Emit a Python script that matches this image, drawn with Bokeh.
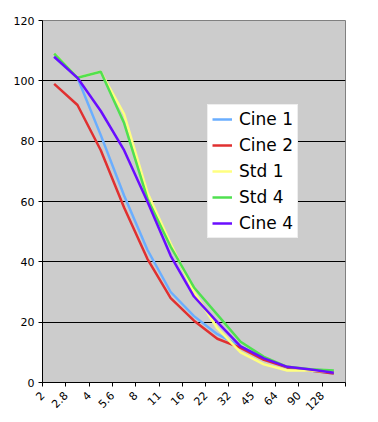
from bokeh.plotting import figure
from bokeh.models import FixedTicker, Legend, LegendItem, ColumnDataSource
from bokeh.embed import file_html
from bokeh.resources import INLINE
import math

categories = ["2", "2.8", "4", "5.6", "8", "11", "16", "22", "32", "45", "64", "90", "128"]
cine1 = [108, 101, 82, 62, 44, 30, 22, 16, 12, 8, 5, 4, 3]
cine2 = [99, 92, 77, 58, 41, 28, 20.5, 14.5, 11.5, 7.5, 5, 4, 3]
std1 = [109, 101, 103, 89, 63, 46, 30, 18, 10, 6, 4, 4, 3.5]
std4 = [109, 101, 103, 86, 61, 45, 31.5, 22.5, 13.5, 8.5, 5.2, 4.4, 4]
cine4 = [108, 101, 90, 77, 60, 42, 28.5, 20, 12, 8, 5.2, 4.3, 3.2]

series = [
    ("Cine 1", cine1, "#6aaeff"),
    ("Cine 2", cine2, "#e03030"),
    ("Std 1", std1, "#ffff80"),
    ("Std 4", std4, "#50e050"),
    ("Cine 4", cine4, "#6a0dff"),
]

n = len(categories)
xs = [i + 0.5 for i in range(n)]

p = figure(width=378, height=422, output_backend="svg", toolbar_location=None,
           x_range=(0, n), y_range=(0, 120),
           min_border_left=42, min_border_right=33, min_border_top=20, min_border_bottom=40)
p.border_fill_color = "white"
p.background_fill_color = "#cccccc"
p.outline_line_color = "#808080"
p.outline_line_width = 1

items = []
for name, vals, col in series:
    src = ColumnDataSource(dict(x=xs, y=vals))
    r = p.line("x", "y", source=src, line_color=col, line_width=2.5)
    items.append(LegendItem(label=name, renderers=[r]))

# axes
p.xaxis.ticker = FixedTicker(ticks=list(range(n + 1)))
p.xaxis.major_label_overrides = {i: categories[i] for i in range(n)} | {n: ""}
p.xaxis.major_label_orientation = math.pi / 4
p.xaxis.minor_tick_line_color = None
p.yaxis.ticker = FixedTicker(ticks=[0, 20, 40, 60, 80, 100, 120])
p.yaxis.minor_tick_line_color = None
for ax in (p.xaxis, p.yaxis):
    ax.axis_line_color = "black"
    ax.major_tick_line_color = "black"
    ax.major_tick_out = 4
    ax.major_tick_in = 0
    ax.major_label_text_font = "DejaVu Sans"
    ax.major_label_text_font_size = "11px"
    ax.major_label_text_color = "black"
    ax.major_label_standoff = 4
p.xaxis.major_label_standoff = 7

p.xgrid.grid_line_color = None
p.ygrid.ticker = FixedTicker(ticks=[20, 40, 60, 80, 100])
p.ygrid.grid_line_color = "black"
p.ygrid.grid_line_width = 1

legend = Legend(items=items, location=(165, 144))
legend.label_text_font = "DejaVu Sans"
legend.label_text_font_size = "17px"
legend.label_text_color = "black"
legend.glyph_width = 20
legend.glyph_height = 20
legend.label_height = 20
legend.spacing = 6
legend.padding = 4
legend.margin = 0
legend.label_standoff = 7
legend.border_line_color = "#dddddd"
legend.background_fill_color = "white"
legend.background_fill_alpha = 1
p.add_layout(legend)

open("out.html", "w").write(file_html(p, INLINE))
